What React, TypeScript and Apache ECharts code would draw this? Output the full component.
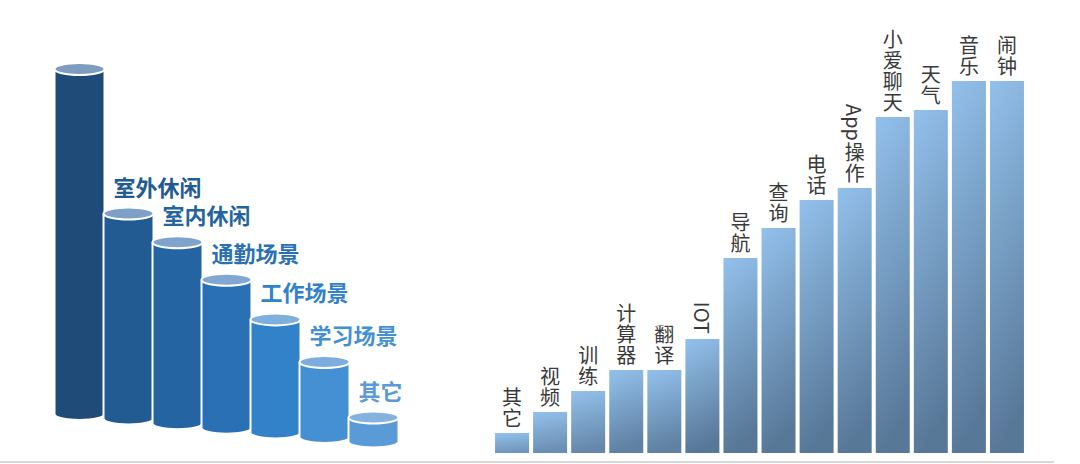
import React, { useEffect, useRef } from 'react';
import * as echarts from 'echarts';

// left: usage scenes (cylinders), first one is the unlabeled total
const sceneLabels = ['', '室外休闲', '室内休闲', '通勤场景', '工作场景', '学习场景', '其它'];
const sceneValues = [345, 205, 181, 148, 113, 75, 24];
const sceneColors = ['#1f4b78', '#225a92', '#2564a3', '#2a70b5', '#3282c9', '#4490d3', '#5a9ad6'];
const sceneTopColors = ['#7d9cbf', '#7f9fc4', '#7fa3cc', '#80a8d2', '#7fafdc', '#7caddd', '#86b2e0'];

// right: skills
const skillLabels = ['其它', '视频', '训练', '计算器', '翻译', 'IOT', '导航', '查询', '电话', 'App操作', '小爱聊天', '天气', '音乐', '闹钟'];
const skillValues = [20, 41, 62, 83, 83, 114, 195, 225, 253, 265, 336, 343, 372, 372];

const FONT = '"Noto Sans CJK SC", "Noto Sans", sans-serif';
const BAR_TOP = '#93c1ec';
const BAR_BOTTOM = '#587898';

function mix(a: string, b: string, t: number) {
  const pa = [1, 3, 5].map((i) => parseInt(a.slice(i, i + 2), 16));
  const pb = [1, 3, 5].map((i) => parseInt(b.slice(i, i + 2), 16));
  const c = pa.map((v, i) => Math.round(v + (pb[i] - v) * t));
  return `rgb(${c[0]},${c[1]},${c[2]})`;
}

let measureCtx: CanvasRenderingContext2D | null = null;
function textWidth(s: string, size: number) {
  if (!measureCtx) measureCtx = document.createElement('canvas').getContext('2d');
  if (!measureCtx) return s.length * size * 0.6;
  measureCtx.font = `${size}px ${FONT}`;
  return measureCtx.measureText(s).width;
}

export default function App() {
  const chartRef = useRef<HTMLDivElement>(null);

  useEffect(() => {
    document.body.style.margin = '0';
    if (!chartRef.current) return;
    const chart = echarts.init(chartRef.current, undefined, { renderer: 'svg' });

    // cylinders drop a little lower each step (perspective)
    const STEP = 4.6;
    const RY = 6;

    const renderCylinder = (params: any, api: any) => {
      const i = params.dataIndex;
      const base = api.coord([api.value(0), 0]);
      const top = api.coord([api.value(0), api.value(1)]);
      const w = api.size([1, 0])[0] * 1.02;
      const cx = base[0];
      const yb = base[1] + i * STEP;
      const yt = top[1] + i * STEP;
      const body = sceneColors[i];
      const children: any[] = [
        {
          type: 'ellipse',
          shape: { cx, cy: yb, rx: w / 2, ry: RY },
          style: { fill: body, stroke: '#fff', lineWidth: 2 },
        },
        {
          type: 'rect',
          shape: { x: cx - w / 2, y: yt, width: w, height: yb - yt },
          style: { fill: body },
        },
        {
          type: 'line',
          shape: { x1: cx - w / 2, y1: yt, x2: cx - w / 2, y2: yb },
          style: { stroke: '#fff', lineWidth: 2 },
        },
        {
          type: 'line',
          shape: { x1: cx + w / 2, y1: yt, x2: cx + w / 2, y2: yb },
          style: { stroke: '#fff', lineWidth: 2 },
        },
        {
          type: 'ellipse',
          shape: { cx, cy: yt, rx: w / 2, ry: RY },
          style: { fill: sceneTopColors[i], stroke: '#fff', lineWidth: 2 },
        },
      ];
      if (sceneLabels[i]) {
        children.push({
          type: 'text',
          x: cx - w / 2 + 10,
          y: yt - 28,
          style: {
            text: sceneLabels[i],
            fill: body,
            fontSize: 22,
            fontWeight: 'bold',
            fontFamily: FONT,
            align: 'left',
            verticalAlign: 'middle',
          },
        });
      }
      return { type: 'group', children };
    };

    // vertical labels: CJK chars stacked upright, latin runs rotated
    const LABEL_SIZE = 20;
    const LINE_H = 21;
    const renderSkillLabel = (params: any, api: any) => {
      const i = params.dataIndex;
      const top = api.coord([api.value(0), api.value(1)]);
      const cx = top[0];
      let cursor = top[1] - 5;
      const runs = skillLabels[i].match(/[A-Za-z0-9]+|[^A-Za-z0-9]+/g) || [];
      const children: any[] = [];
      for (let k = runs.length - 1; k >= 0; k--) {
        const run = runs[k];
        const common = {
          fill: '#3a3a3a',
          fontSize: LABEL_SIZE,
          fontFamily: FONT,
        };
        if (/^[A-Za-z0-9]+$/.test(run)) {
          const tw = textWidth(run, LABEL_SIZE);
          children.push({
            type: 'text',
            x: cx,
            y: cursor - tw,
            rotation: -Math.PI / 2,
            style: { ...common, text: run, align: 'left', verticalAlign: 'middle' },
          });
          cursor -= tw + 2;
        } else {
          const chars = Array.from(run);
          children.push({
            type: 'text',
            x: cx,
            y: cursor,
            style: {
              ...common,
              text: chars.join('\n'),
              lineHeight: LINE_H,
              align: 'center',
              verticalAlign: 'bottom',
            },
          });
          cursor -= LINE_H * chars.length;
        }
      }
      return { type: 'group', children };
    };

    const option: any = {
      animation: false,
      backgroundColor: '#fff',
      grid: [
        { left: 55, width: 343, top: 64, bottom: 50 },
        { left: 493, width: 533, top: 53, bottom: 11 },
      ],
      xAxis: [
        { type: 'category', gridIndex: 0, data: sceneLabels.map((l, i) => l || `s${i}`), show: false },
        { type: 'category', gridIndex: 1, data: skillLabels, show: false },
      ],
      yAxis: [
        { type: 'value', gridIndex: 0, min: 0, max: 350, show: false },
        { type: 'value', gridIndex: 1, min: 0, max: 400, show: false },
      ],
      series: [
        {
          type: 'custom',
          xAxisIndex: 0,
          yAxisIndex: 0,
          silent: true,
          renderItem: renderCylinder,
          encode: { x: 0, y: 1 },
          data: sceneValues.map((v, i) => [i, v]),
        },
        {
          type: 'bar',
          xAxisIndex: 1,
          yAxisIndex: 1,
          barWidth: 34,
          silent: true,
          data: skillValues,
          itemStyle: {
            color: (p: any) => {
              const t = Math.min(1, 0.5 + p.value / 220);
              return new echarts.graphic.LinearGradient(0, 0, 0.15, 1, [
                { offset: 0, color: BAR_TOP },
                { offset: 1, color: mix(BAR_TOP, BAR_BOTTOM, t) },
              ]);
            },
          },
        },
        {
          type: 'custom',
          xAxisIndex: 1,
          yAxisIndex: 1,
          silent: true,
          z: 5,
          renderItem: renderSkillLabel,
          encode: { x: 0, y: 1 },
          data: skillValues.map((v, i) => [i, v]),
        },
      ],
      graphic: [
        {
          type: 'line',
          shape: { x1: 0, y1: 462, x2: 1054, y2: 462 },
          style: { stroke: '#d8d8d8', lineWidth: 2 },
          silent: true,
        },
      ],
    };

    chart.setOption(option);
    return () => {
      chart.dispose();
    };
  }, []);

  return <div ref={chartRef} style={{ width: 1080, height: 464 }} />;
}
